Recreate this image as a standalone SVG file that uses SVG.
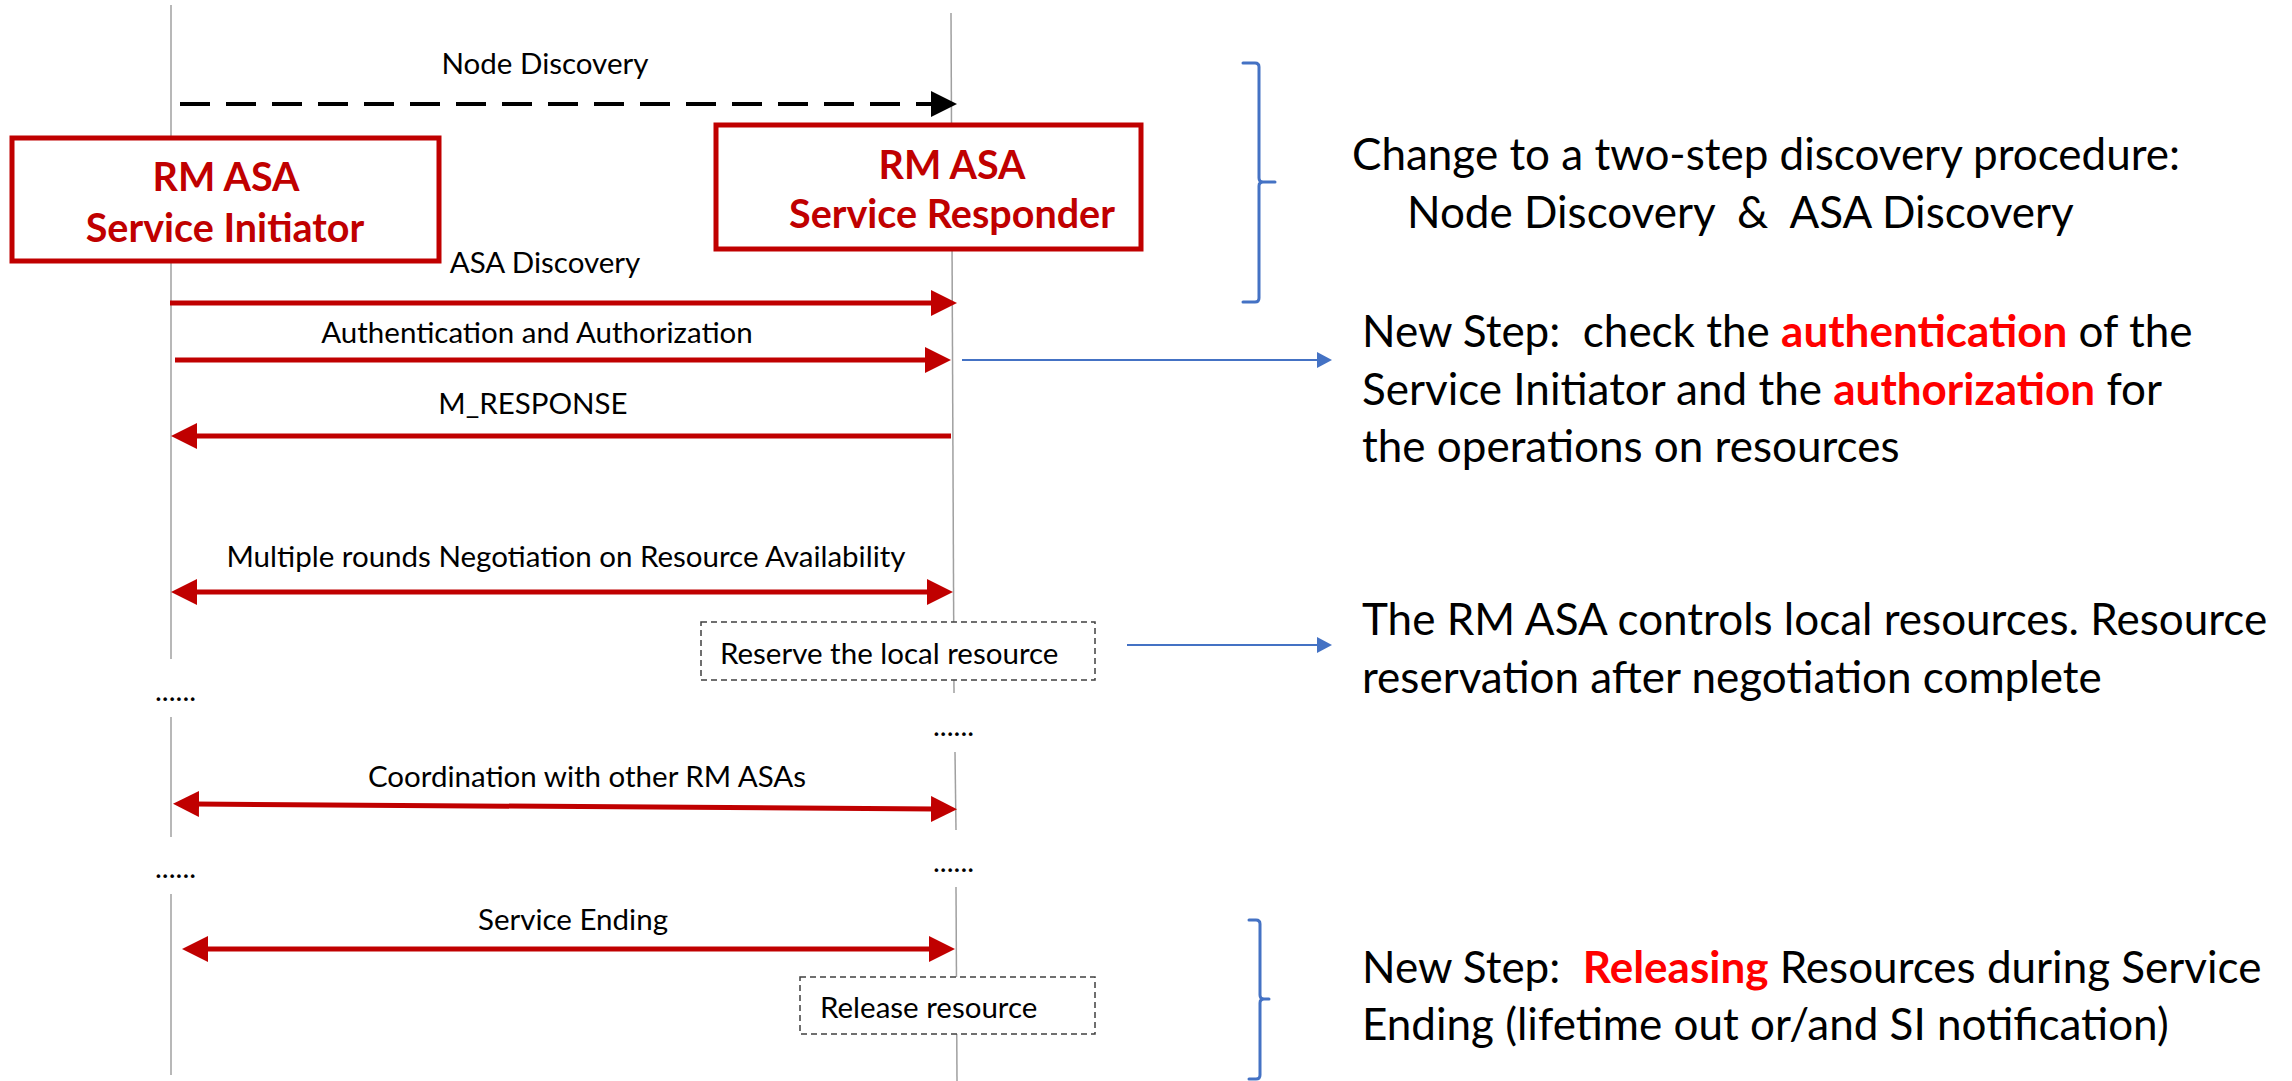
<svg xmlns="http://www.w3.org/2000/svg" width="2292" height="1081" viewBox="0 0 2292 1081">
<style>
text { font-family: Lato, "Open Sans", sans-serif; white-space: pre; fill: #000; }
.lbl { font-size: 29.5px; text-anchor: middle; }
.note { font-size: 44px; }
.em { font-weight: bold; fill: #FF0000; }
.title { font-size: 39.5px; font-weight: bold; fill: #C00000; text-anchor: middle; }
.box { fill: #fff; stroke: #C00000; stroke-width: 5; }
.act { fill: #fff; stroke: #404040; stroke-width: 1.5; stroke-dasharray: 6 4; }
.life { stroke: #A0A0A0; stroke-width: 1.5; fill: none; }
.msg { stroke: #C00000; stroke-width: 5; fill: none; }
.blue { stroke: #4472C4; stroke-width: 2; fill: none; }
.brace { stroke: #4472C4; stroke-width: 3; fill: none; stroke-linecap: round; }
.dots { font-size: 29px; }
</style>
<defs>
<marker id="ah-red" viewBox="0 0 26 26" refX="4" refY="13" markerWidth="26" markerHeight="26" markerUnits="userSpaceOnUse" orient="auto-start-reverse">
<path d="M0,0 L26,13 L0,26 z" fill="#C00000"/>
</marker>
<marker id="ah-black" viewBox="0 0 26 26" refX="4" refY="13" markerWidth="26" markerHeight="26" markerUnits="userSpaceOnUse" orient="auto">
<path d="M0,0 L26,13 L0,26 z" fill="#000"/>
</marker>
<marker id="ah-blue" viewBox="0 0 15 16" refX="2" refY="8" markerWidth="15" markerHeight="16" markerUnits="userSpaceOnUse" orient="auto">
<path d="M0,0 L15,8 L0,16 z" fill="#4472C4"/>
</marker>
</defs>
<rect width="2292" height="1081" fill="#fff"/>

<g id="lifelines">
<line class="life" x1="171" y1="5" x2="171" y2="659"/>
<line class="life" x1="171" y1="717" x2="171" y2="837"/>
<line class="life" x1="171" y1="894" x2="171" y2="1075"/>
<line class="life" x1="951" y1="13" x2="954" y2="693"/>
<line class="life" x1="955" y1="752" x2="956" y2="830"/>
<line class="life" x1="956" y1="887" x2="957" y2="1081"/>
</g>

<g id="connectors">
<line x1="180" y1="104" x2="935" y2="104" stroke="#000" stroke-width="4" stroke-dasharray="30 16" marker-end="url(#ah-black)"/>
<line class="msg" x1="170" y1="303" x2="935" y2="303" marker-end="url(#ah-red)"/>
<line class="msg" x1="175" y1="360" x2="929" y2="360" marker-end="url(#ah-red)"/>
<line class="msg" x1="951" y1="436" x2="193" y2="436" marker-end="url(#ah-red)"/>
<line class="msg" x1="193" y1="592" x2="931" y2="592" marker-start="url(#ah-red)" marker-end="url(#ah-red)"/>
<line class="msg" x1="195" y1="804" x2="935" y2="809" marker-start="url(#ah-red)" marker-end="url(#ah-red)"/>
<line class="msg" x1="204" y1="949" x2="933" y2="949" marker-start="url(#ah-red)" marker-end="url(#ah-red)"/>
<line class="blue" x1="962" y1="360" x2="1319" y2="360" marker-end="url(#ah-blue)"/>
<line class="blue" x1="1127" y1="645" x2="1319" y2="645" marker-end="url(#ah-blue)"/>
<path class="brace" d="M1243,63 L1255,63 Q1259,63 1259,67 L1259,178 Q1259,182 1263,182 L1275,182 M1263,182 Q1259,182 1259,186 L1259,298 Q1259,302 1255,302 L1243,302"/>
<path class="brace" d="M1249,920 L1256,920 Q1260,920 1260,924 L1260,995 Q1260,999 1264,999 L1269,999 M1264,999 Q1260,999 1260,1003 L1260,1075 Q1260,1079 1256,1079 L1249,1079"/>
</g>

<g id="labels">
<text class="lbl" x="545" y="74">Node Discovery</text>
<text class="lbl" x="545" y="273">ASA Discovery</text>
<text class="lbl" x="537" y="343">Authentication and Authorization</text>
<text class="lbl" x="533" y="414">M_RESPONSE</text>
<text class="lbl" x="566" y="567">Multiple rounds Negotiation on Resource Availability</text>
<text class="lbl" x="587" y="787">Coordination with other RM ASAs</text>
<text class="lbl" x="573" y="930">Service Ending</text>
<text class="dots" x="155" y="701">......</text>
<text class="dots" x="933" y="736">......</text>
<text class="dots" x="155" y="878">......</text>
<text class="dots" x="933" y="872">......</text>
</g>

<g id="initiator">
<rect class="box" x="12" y="138" width="427" height="123"/>
<text class="title" x="226" y="191">RM ASA</text>
<text class="title" x="225" y="242">Service Initiator</text>
</g>

<g id="responder">
<rect class="box" x="716" y="125" width="425" height="124"/>
<text class="title" x="952" y="179">RM ASA</text>
<text class="title" x="952" y="228">Service Responder</text>
</g>

<g id="reserve">
<rect class="act" x="701" y="622" width="394" height="58"/>
<text class="lbl" x="720" y="664" style="text-anchor:start">Reserve the local resource</text>
</g>

<g id="release">
<rect class="act" x="800" y="977" width="295" height="57"/>
<text class="lbl" x="820" y="1018" style="text-anchor:start">Release resource</text>
</g>

<g id="note-discovery">
<text class="note" x="1352" y="170">Change to a two-step discovery procedure:</text>
<text class="note" x="1407" y="228">Node Discovery  &amp;  ASA Discovery</text>
</g>

<g id="note-auth">
<text class="note" x="1362" y="347">New Step:  check the <tspan class="em">authentication</tspan> of the</text>
<text class="note" x="1362" y="405">Service Initiator and the <tspan class="em">authorization</tspan> for</text>
<text class="note" x="1362" y="462">the operations on resources</text>
</g>

<g id="note-reserve">
<text class="note" x="1362" y="635">The RM ASA controls local resources. Resource</text>
<text class="note" x="1362" y="693">reservation after negotiation complete</text>
</g>

<g id="note-release">
<text class="note" x="1362" y="983">New Step:  <tspan class="em">Releasing</tspan> Resources during Service</text>
<text class="note" x="1362" y="1040">Ending (lifetime out or/and SI notification)</text>
</g>
</svg>
